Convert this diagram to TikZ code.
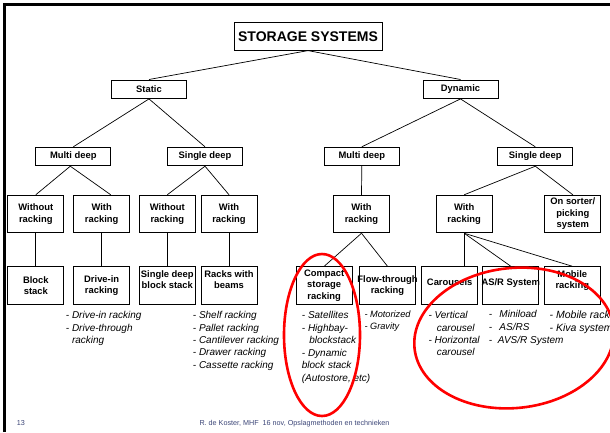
\documentclass[tikz,border=0pt]{standalone}
\usepackage{fontspec}
\setmainfont{Liberation Sans}
\definecolor{footblue}{RGB}{60,70,120}
\begin{document}
\begin{tikzpicture}[x=1pt,y=-1pt,
  box/.style={draw, line width=0.8pt, inner sep=0pt, align=center, font=\bfseries\fontsize{9.4}{11.5}\selectfont},
  bigbox/.style={box, minimum width=56pt, minimum height=37.7pt},
  midbox/.style={box, minimum width=75pt, minimum height=18.6pt},
  topbox/.style={box, minimum width=148pt, minimum height=28pt, font=\bfseries\fontsize{14}{16}\selectfont},
  conn/.style={line width=0.7pt},
  list/.style={anchor=north west, align=left, inner sep=0pt, font=\itshape\fontsize{10}{12.4}\selectfont},
  ring/.style={draw=red, line width=2.6pt},
  foot/.style={anchor=base west, inner sep=0pt, text=footblue, font=\fontsize{7.2}{8}\selectfont}]
\useasboundingbox (0,0) rectangle (610,432);
\clip (0,0) rectangle (610,432);
\fill[white] (0,0) rectangle (610,432);
% frame
\draw[line width=3pt] (4.5,432) -- (4.5,4.5) -- (612,4.5);
% level 0/1
\node[topbox] (top) at (308,36.2) {STORAGE SYSTEMS};
\node[midbox] (static) at (149,89.2) {Static};
\node[midbox] (dynamic) at (460.5,89.2) {Dynamic};
% level 2
\node[midbox] (lmd) at (73.3,156.5) {Multi deep};
\node[midbox] (lsd) at (205,156.5) {Single deep};
\node[midbox] (rmd) at (361.8,156.5) {Multi deep};
\node[midbox] (rsd) at (535.3,156.5) {Single deep};
% level 3
\node[bigbox] (l1) at (35.8,214) {Without\\racking};
\node[bigbox] (l2) at (101.7,214) {With\\racking};
\node[bigbox] (l3) at (167.3,214) {Without\\racking};
\node[bigbox] (l4) at (229,214) {With\\racking};
\node[bigbox] (r1) at (361.5,214) {With\\racking};
\node[bigbox] (r2) at (464.2,214) {With\\racking};
\node[bigbox] (r3) at (572.8,214) {On sorter/\\picking\\system};
% level 4
\node[bigbox] (b1) at (35.8,285.5) {Block\\stack};
\node[bigbox] (b2) at (101.7,285.5) {Drive-in\\racking};
\node[bigbox] (b3) at (167.3,285.5) {\makebox[0pt]{Single deep}\\\makebox[0pt]{block stack}\\~};
\node[bigbox] (b4) at (229,285.5) {\makebox[0pt]{Racks with}\\beams\\~};
\node[bigbox] (b5) at (324.2,285.5) {Compact\\storage\\racking};
\node[bigbox] (b6) at (387.5,285.5) {\makebox[0pt]{Flow-through}\\racking};
\node[bigbox] (b7) at (449.7,285.5) {Carousels\\[-4pt]~};
\node[bigbox] (b8) at (510.8,285.5) {\makebox[0pt]{AS/R System}\\[-4pt]~};
\node[bigbox] (b9) at (572.3,285.5) {Mobile\\racking\\~};
% connectors
\draw[conn] (top.south) -- (static.north);
\draw[conn] (top.south) -- (dynamic.north);
\draw[conn] (static.south) -- (lmd.north);
\draw[conn] (static.south) -- (lsd.north);
\draw[conn] (dynamic.south) -- (rmd.north);
\draw[conn] (dynamic.south) -- (rsd.north);
\draw[conn] ([xshift=-3pt]lmd.south) -- (l1.north);
\draw[conn] ([xshift=-3pt]lmd.south) -- ([xshift=9pt]l2.north);
\draw[conn] (lsd.south) -- (l3.north);
\draw[conn] (lsd.south) -- (l4.north);
\draw[conn] (rmd.south) -- (r1.north);
\draw[conn] (rsd.south) -- (r2.north);
\draw[conn] (rsd.south) -- (r3.north);
\draw[conn] (l1.south) -- (b1.north);
\draw[conn] (l2.south) -- (b2.north);
\draw[conn] (l3.south) -- (b3.north);
\draw[conn] (l4.south) -- (b4.north);
\draw[conn] (r1.south) -- (b5.north);
\draw[conn] (r1.south) -- (b6.north);
\draw[conn] (r2.south) -- (r2.south |- b7.north);
\draw[conn] (r2.south) -- (b8.north);
\draw[conn] (r2.south) -- (b9.north);
% lists
\node[list] (t1) at (65.7,311.2) {- Drive-in racking\\- Drive-through\\\phantom{- }racking};
\node[list] (t2) at (192.7,311.2) {- Shelf racking\\- Pallet racking\\- Cantilever racking\\- Drawer racking\\- Cassette racking};
\node[list, font=\itshape\fontsize{10}{12.5}\selectfont] (t3) at (301.7,311.2) {- Satellites\\- Highbay-\\\hspace*{7.5pt}blockstack\\- Dynamic\\block stack\\(Autostore, etc)};
\node[list, font=\itshape\fontsize{9.2}{11.4}\selectfont] (t4) at (364.3,310.8) {- Motorized\\- Gravity};
\node[list] (t5) at (428.3,311.2) {- Vertical\\\hspace*{8.4pt}carousel\\- Horizontal\\\hspace*{8.4pt}carousel};
\node[list, font=\itshape\fontsize{10}{12.7}\selectfont] (t6) at (488.7,310.5) {\makebox[10.6pt][l]{-}Miniload\\\makebox[10.6pt][l]{-}AS/RS\\\makebox[9pt][l]{-}AVS/R System};
\node[list, font=\itshape\fontsize{10.5}{13}\selectfont] (t7) at (549.5,310.2) {- Mobile racking\\- Kiva systems};
% footer
\node[foot] (pg) at (16.7,425.3) {13};
\node[foot] (ft) at (199.3,425.3) {R. de Koster, MHF\ \ 16 nov, Opslagmethoden en technieken};
% red rings
\draw[ring] (322,335) ellipse [x radius=38pt, y radius=81pt];
\draw[ring] (514,338) ellipse [x radius=100pt, y radius=70pt, rotate=6];
\end{tikzpicture}
\end{document}
